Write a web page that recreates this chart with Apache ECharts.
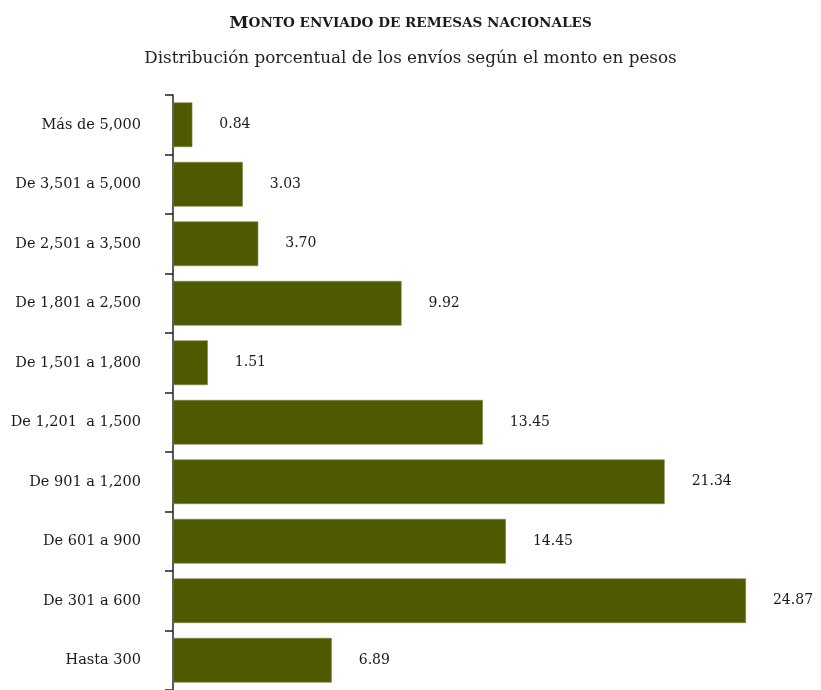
<!DOCTYPE html>
<html>
<head>
<meta charset="utf-8">
<script src="https://cdn.jsdelivr.net/npm/echarts@6/dist/echarts.min.js"></script>
<style>
  html, body { margin: 0; padding: 0; background: #fff; }
  #chart { width: 821px; height: 690px; }
</style>
</head>
<body>
<div id="chart"></div>
<script>
// categories from bottom to top
const categories = ['Hasta 300', 'De 301 a 600', 'De 601 a 900', 'De 901 a 1,200', 'De 1,201  a 1,500',
  'De 1,501 a 1,800', 'De 1,801 a 2,500', 'De 2,501 a 3,500', 'De 3,501 a 5,000', 'Más de 5,000'];
const values = [6.89, 24.87, 14.45, 21.34, 13.45, 1.51, 9.92, 3.70, 3.03, 0.84];

const serif = '"DejaVu Serif", "Liberation Serif", serif';
const chart = echarts.init(document.getElementById('chart'));

const option = {
  backgroundColor: '#fff',
  animation: false,
  title: [
    {
      text: '{big|M}{small|ONTO ENVIADO DE REMESAS NACIONALES}',
      left: 'center',
      top: 9,
      textStyle: {
        rich: {
          big: { fontFamily: serif, fontSize: 17.5, fontWeight: 'bold', color: '#1a1a1a' },
          small: { fontFamily: serif, fontSize: 13.6, fontWeight: 'bold', color: '#1a1a1a' }
        }
      }
    },
    {
      text: 'Distribución porcentual de los envíos según el monto en pesos',
      left: 'center',
      top: 45,
      textStyle: { fontFamily: serif, fontSize: 16.8, fontWeight: 'normal', color: '#222' }
    }
  ],
  grid: { left: 173, right: 49, top: 95, bottom: -5, containLabel: false },
  xAxis: {
    type: 'value',
    min: 0,
    max: 26,
    show: false
  },
  yAxis: {
    type: 'category',
    data: categories,
    axisLine: { show: true, lineStyle: { color: '#222', width: 1.5 } },
    axisTick: { show: true, length: 8, lineStyle: { color: '#222', width: 1.5 } },
    axisLabel: { fontFamily: serif, fontSize: 14.5, color: '#1a1a1a', margin: 32 }
  },
  series: [{
    type: 'bar',
    data: values,
    barCategoryGap: '25%',
    itemStyle: { color: '#4e5900', borderColor: '#7d8540', borderWidth: 0.6 },
    label: {
      show: true,
      position: 'right',
      distance: 27,
      formatter: p => p.value.toFixed(2),
      fontFamily: serif,
      fontSize: 14,
      color: '#1a1a1a'
    }
  }]
};
chart.setOption(option);
</script>
</body>
</html>
